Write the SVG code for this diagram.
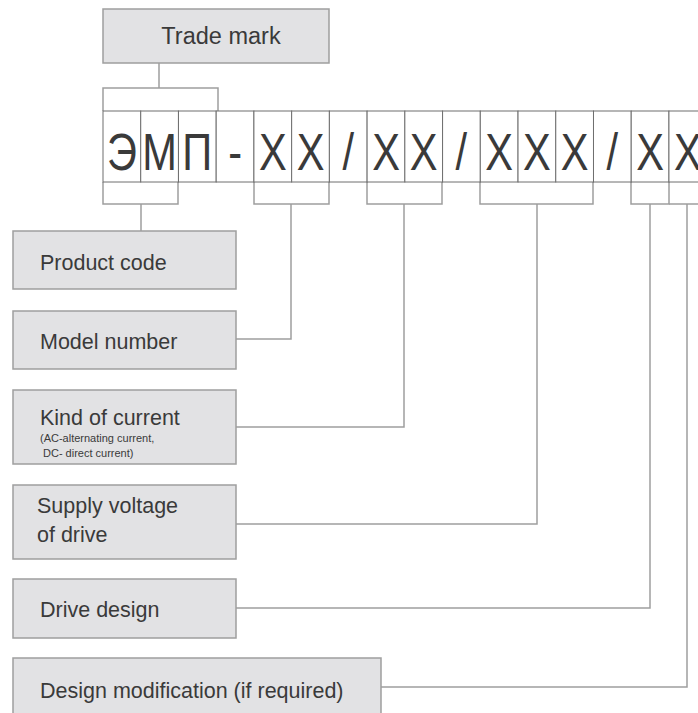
<svg xmlns="http://www.w3.org/2000/svg" width="698" height="713" viewBox="0 0 698 713">
<style>
.box{fill:#e2e2e4;stroke:#9e9e9e;stroke-width:1.5}
.lbl{font-family:"Liberation Sans",Arial,sans-serif;font-size:21.5px;fill:#3a3a3a}
.sm{font-family:"Liberation Sans",Arial,sans-serif;font-size:11px;fill:#3a3a3a}
.ch{font-family:"Liberation Sans",Arial,sans-serif;font-size:52px;fill:#3a3a3a;text-anchor:middle}
.cell{fill:#fff;stroke:#6e6e6e;stroke-width:1}
.con{fill:none;stroke:#9e9e9e;stroke-width:1.5}
</style>
<rect width="698" height="713" fill="#fff"/>
<g id="connectors">
<path class="con" d="M159,63 V88 M103,111 V88 H218 V111"/>
<path class="con" d="M103,182 V204 H178 V182 M141,204 V231"/>
<path class="con" d="M254,182 V204 H329 V182 M291,204 V339 H236"/>
<path class="con" d="M367,182 V204 H442 V182 M404,204 V427 H236"/>
<path class="con" d="M480,182 V204 H593 V182 M537,204 V524 H236"/>
<path class="con" d="M631,182 V204 H669 V182 M650,204 V608 H236"/>
<path class="con" d="M669,204 H707 M687,204 V687 H381"/>
</g>
<g id="code">
<rect class="cell" x="103" y="111" width="37.73" height="71"/>
<rect class="cell" x="140.73" y="111" width="37.73" height="71"/>
<rect class="cell" x="178.46" y="111" width="37.73" height="71"/>
<rect class="cell" x="216.19" y="111" width="37.73" height="71"/>
<rect class="cell" x="253.92" y="111" width="37.73" height="71"/>
<rect class="cell" x="291.65" y="111" width="37.73" height="71"/>
<rect class="cell" x="329.38" y="111" width="37.73" height="71"/>
<rect class="cell" x="367.11" y="111" width="37.73" height="71"/>
<rect class="cell" x="404.84" y="111" width="37.73" height="71"/>
<rect class="cell" x="442.57" y="111" width="37.73" height="71"/>
<rect class="cell" x="480.3" y="111" width="37.73" height="71"/>
<rect class="cell" x="518.03" y="111" width="37.73" height="71"/>
<rect class="cell" x="555.76" y="111" width="37.73" height="71"/>
<rect class="cell" x="593.49" y="111" width="37.73" height="71"/>
<rect class="cell" x="631.22" y="111" width="37.73" height="71"/>
<rect class="cell" x="668.95" y="111" width="37.73" height="71"/>
<text class="ch" transform="translate(121.9,170) scale(0.8,1)">Э</text>
<text class="ch" transform="translate(159.6,170) scale(0.8,1)">М</text>
<text class="ch" transform="translate(197.3,170) scale(0.8,1)">П</text>
<text class="ch" transform="translate(235.1,170) scale(0.8,1)">-</text>
<text class="ch" transform="translate(272.8,170) scale(0.8,1)">X</text>
<text class="ch" transform="translate(310.5,170) scale(0.8,1)">X</text>
<text class="ch" transform="translate(348.2,170) scale(0.8,1)">/</text>
<text class="ch" transform="translate(386,170) scale(0.8,1)">X</text>
<text class="ch" transform="translate(423.7,170) scale(0.8,1)">X</text>
<text class="ch" transform="translate(461.4,170) scale(0.8,1)">/</text>
<text class="ch" transform="translate(499.2,170) scale(0.8,1)">X</text>
<text class="ch" transform="translate(536.9,170) scale(0.8,1)">X</text>
<text class="ch" transform="translate(574.6,170) scale(0.8,1)">X</text>
<text class="ch" transform="translate(612.4,170) scale(0.8,1)">/</text>
<text class="ch" transform="translate(650.1,170) scale(0.8,1)">X</text>
<text class="ch" transform="translate(687.8,170) scale(0.8,1)">X</text>
</g>
<g id="trademark">
<rect class="box" x="103" y="9" width="226" height="54"/>
<text class="lbl" x="221" y="44" text-anchor="middle" style="font-size:23.5px">Trade mark</text>
</g>
<g id="product-code">
<rect class="box" x="13" y="231" width="223" height="58"/>
<text class="lbl" x="40" y="270">Product code</text>
</g>
<g id="model-number">
<rect class="box" x="13" y="311" width="223" height="58"/>
<text class="lbl" x="40" y="349">Model number</text>
</g>
<g id="kind-of-current">
<rect class="box" x="13" y="390" width="223" height="74"/>
<text class="lbl" x="40" y="425">Kind of current</text>
<text class="sm" x="40" y="442">(AC-alternating current,</text>
<text class="sm" x="43" y="457">DC- direct current)</text>
</g>
<g id="supply-voltage">
<rect class="box" x="13" y="485" width="223" height="74"/>
<text class="lbl" x="37" y="513">Supply voltage</text>
<text class="lbl" x="37" y="542">of drive</text>
</g>
<g id="drive-design">
<rect class="box" x="13" y="579" width="223" height="59"/>
<text class="lbl" x="40" y="617">Drive design</text>
</g>
<g id="design-modification">
<rect class="box" x="13" y="658" width="368" height="70"/>
<text class="lbl" x="40" y="698">Design modification (if required)</text>
</g>
</svg>
